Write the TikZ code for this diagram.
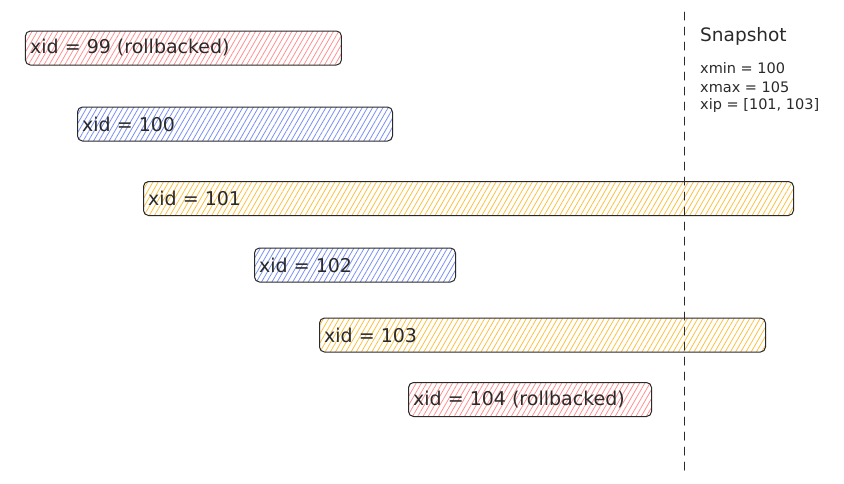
\documentclass[tikz,border=0pt]{standalone}
\usepackage{fontspec}
\setmainfont{DejaVu Sans}
\usetikzlibrary{patterns.meta}
\definecolor{ink}{HTML}{2A2A2A}
\definecolor{hred}{HTML}{FF9090}
\definecolor{hblue}{HTML}{7A90F0}
\definecolor{hyellow}{HTML}{FBC040}
\tikzset{
  bar/.style={draw=ink, line width=1pt, rounded corners=5pt, minimum height=34pt, anchor=west, inner sep=0pt,
    pattern={Lines[angle=60, distance=4.5pt, line width=0.8pt]}},
  barlabel/.style={anchor=west, font=\fontsize{19}{21}\selectfont, text=ink, inner sep=5pt},
  snaptext/.style={anchor=west, font=\fontsize{14.5}{16}\selectfont, text=ink, inner sep=0pt}
}
\begin{document}
\begin{tikzpicture}[x=1pt, y=-1pt, line join=round, line cap=round]
  \useasboundingbox (0,0) rectangle (844,483);
  % transactions
  \foreach \n/\x/\y/\w/\c/\t in {99/25/48/316/hred/{xid = 99 (rollbacked)},
      100/77/124/315/hblue/{xid = 100},
      101/143/198.5/650/hyellow/{xid = 101},
      102/254/265/201/hblue/{xid = 102},
      103/319/335/446/hyellow/{xid = 103},
      104/408/399.5/243/hred/{xid = 104 (rollbacked)}}{
    \node[bar, pattern color=\c, minimum width=\w pt] (bar\n) at (\x,\y) {};
    \node[barlabel] (lbl\n) at (bar\n.west) {\t};
  }
  % snapshot
  \path (684,12) coordinate (snapT) (684,476) coordinate (snapB);
  \draw[ink, line width=1pt, dash pattern=on 8pt off 7pt] (snapT) -- (snapB);
  \node[snaptext, font=\fontsize{18.5}{20}\selectfont] (snap) at (700,36) {Snapshot};
  \node[snaptext] (xmin) at (700,68) {xmin = 100};
  \node[snaptext] (xmax) at (700,87) {xmax = 105};
  \node[snaptext] (xip) at (700,105) {xip = [101, 103]};
\end{tikzpicture}
\end{document}
